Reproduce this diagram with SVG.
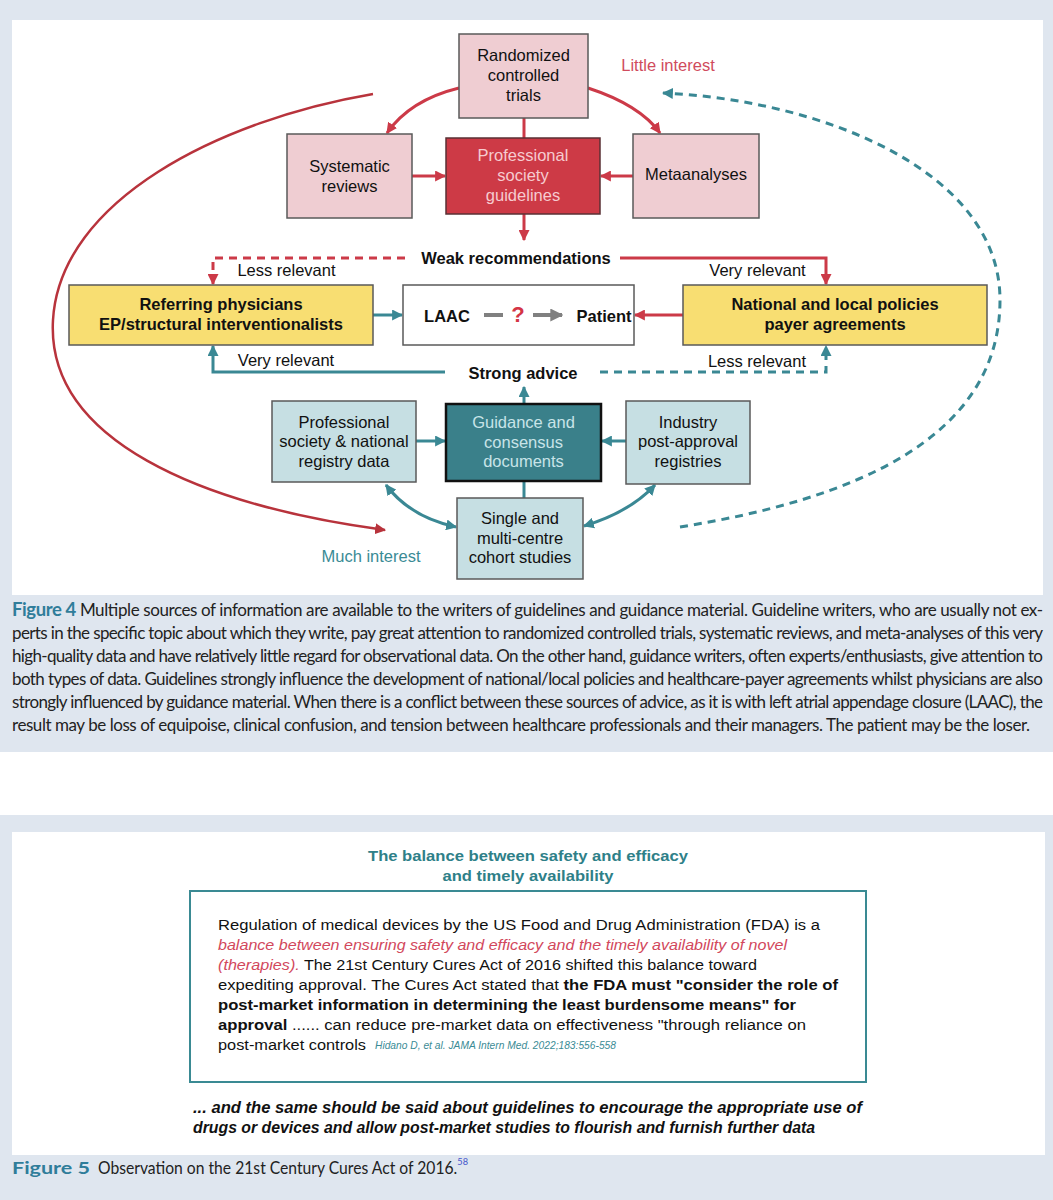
<svg xmlns="http://www.w3.org/2000/svg" width="1053" height="1200" viewBox="0 0 1053 1200">
<style>
text{font-family:"Liberation Sans",Arial,sans-serif;}
.lbl{font-size:16.5px;fill:#111;text-anchor:middle;}
.b{font-weight:bold;}
.pink{fill:#efcdd2;stroke:#5a5a5a;stroke-width:1.5;}
.red{fill:#cd3a46;stroke:#5a3035;stroke-width:1.5;}
.yel{fill:#f8de72;stroke:#5a5a5a;stroke-width:1.5;}
.wht{fill:#fff;stroke:#5a5a5a;stroke-width:1.5;}
.lt{fill:#c6dfe3;stroke:#5a5a5a;stroke-width:1.5;}
.dk{fill:#3a808a;stroke:#111;stroke-width:2.5;}
.rl{fill:none;stroke:#cc3a48;stroke-width:3;}
.tl{fill:none;stroke:#3a8894;stroke-width:3;}
.dash{stroke-dasharray:8 6;}
.cap{font-family:Lato,"Open Sans",sans-serif;font-size:17px;fill:#222;}
.capb{font-weight:bold;fill:#2f7d9a;font-size:18.5px;}
.body{font-size:15.5px;fill:#111;}
</style>
<defs>
<marker id="mr" viewBox="0 0 10 10" refX="9" refY="5" markerWidth="11" markerHeight="11" markerUnits="userSpaceOnUse" orient="auto-start-reverse"><path d="M0,0 L10,5 L0,10 z" fill="#cc3a48"/></marker>
<marker id="md" viewBox="0 0 10 10" refX="9" refY="5" markerWidth="11" markerHeight="11" markerUnits="userSpaceOnUse" orient="auto-start-reverse"><path d="M0,0 L10,5 L0,10 z" fill="#b8333c"/></marker>
<marker id="mt" viewBox="0 0 10 10" refX="9" refY="5" markerWidth="11" markerHeight="11" markerUnits="userSpaceOnUse" orient="auto-start-reverse"><path d="M0,0 L10,5 L0,10 z" fill="#3a8894"/></marker>
<marker id="mg" viewBox="0 0 10 10" refX="9" refY="5" markerWidth="13" markerHeight="13" markerUnits="userSpaceOnUse" orient="auto"><path d="M0,0 L10,5 L0,10 z" fill="#808080"/></marker>
</defs>

<rect width="1053" height="1200" fill="#fff"/>
<rect x="0" y="0" width="1053" height="752" fill="#dfe6ef"/>
<rect x="12" y="20" width="1031" height="575" fill="#fff"/>
<rect x="0" y="815" width="1053" height="385" fill="#dfe6ef"/>
<rect x="12" y="832" width="1033" height="323" fill="#fff"/>

<g id="connectors">
<line class="rl" x1="524" y1="118" x2="524" y2="138"/>
<line class="rl" x1="412" y1="176" x2="445" y2="176" marker-end="url(#mr)"/>
<line class="rl" x1="633" y1="176" x2="601" y2="176" marker-end="url(#mr)"/>
<line class="rl" x1="524" y1="214" x2="524" y2="240" marker-end="url(#mr)"/>
<path class="rl" d="M459,88 Q410,100 387,133" marker-end="url(#mr)"/>
<path class="rl" d="M588,88 Q640,105 660,133" marker-end="url(#mr)"/>
<path class="rl dash" d="M405,258 H213 V284" marker-end="url(#mr)"/>
<path class="rl" d="M620,258 H826 V284" marker-end="url(#mr)"/>
<line class="rl" x1="683" y1="315" x2="635" y2="315" marker-end="url(#mr)"/>
<path fill="none" stroke="#b8333c" stroke-width="2.5" d="M373,94 C220,120 60,200 53,320 C46,440 200,505 385,530" marker-end="url(#md)"/>
<line class="tl" x1="373" y1="315" x2="402" y2="315" marker-end="url(#mt)"/>
<path class="tl" d="M445,372 H213 V346" marker-end="url(#mt)"/>
<path class="tl dash" d="M600,372 H826 V346" marker-end="url(#mt)"/>
<line class="tl" x1="524" y1="404" x2="524" y2="387" stroke-width="2" marker-end="url(#mt)"/>
<line class="tl" x1="416" y1="441" x2="445" y2="441" marker-end="url(#mt)"/>
<line class="tl" x1="626" y1="441" x2="602" y2="441" marker-end="url(#mt)"/>
<line class="tl" x1="524" y1="481" x2="524" y2="498"/>
<path class="tl" d="M386,485 Q410,517 456,527" marker-start="url(#mt)" marker-end="url(#mt)"/>
<path class="tl" d="M584,526 Q630,512 655,485" marker-start="url(#mt)" marker-end="url(#mt)"/>
<path class="tl dash" d="M680,527 C850,500 1000,440 1000,300 C1000,170 820,100 663,93" marker-end="url(#mt)"/>
</g>

<g id="rct"><rect class="pink" x="459" y="34" width="129" height="84"/>
<text class="lbl" x="523.5" y="61">Randomized</text><text class="lbl" x="523.5" y="81">controlled</text><text class="lbl" x="523.5" y="101">trials</text></g>
<g id="systematic"><rect class="pink" x="287" y="134" width="125" height="84"/>
<text class="lbl" x="349.5" y="172">Systematic</text><text class="lbl" x="349.5" y="192">reviews</text></g>
<g id="guidelines"><rect class="red" x="446" y="138" width="154" height="76"/>
<text class="lbl" x="523" y="161" style="fill:#f6cbd0">Professional</text><text class="lbl" x="523" y="181" style="fill:#f6cbd0">society</text><text class="lbl" x="523" y="201" style="fill:#f6cbd0">guidelines</text></g>
<g id="meta"><rect class="pink" x="633" y="134" width="126" height="84"/>
<text class="lbl" x="696" y="180">Metaanalyses</text></g>
<g id="little"><text class="lbl" x="668" y="71" style="fill:#d04b5d">Little interest</text></g>
<g id="weak"><text class="lbl b" x="516" y="264">Weak recommendations</text></g>
<g id="lbl-less1"><text class="lbl" x="286.5" y="276">Less relevant</text></g>
<g id="lbl-very1"><text class="lbl" x="757.5" y="276">Very relevant</text></g>
<g id="referring"><rect class="yel" x="69" y="285" width="304" height="60"/>
<text class="lbl b" x="221" y="310">Referring physicians</text><text class="lbl b" x="221" y="330">EP/structural interventionalists</text></g>
<g id="laac"><rect class="wht" x="403" y="285" width="231" height="60"/>
<text class="lbl b" x="447" y="322">LAAC</text>
<line x1="484" y1="315" x2="503" y2="315" stroke="#808080" stroke-width="4"/>
<text class="b" x="518" y="322" text-anchor="middle" font-size="22" fill="#d43545">?</text>
<line x1="533" y1="315" x2="562" y2="315" stroke="#808080" stroke-width="4" marker-end="url(#mg)"/>
<text class="lbl b" x="604" y="322">Patient</text></g>
<g id="national"><rect class="yel" x="683" y="285" width="304" height="60"/>
<text class="lbl b" x="835" y="310">National and local policies</text><text class="lbl b" x="835" y="330">payer agreements</text></g>
<g id="lbl-very2"><text class="lbl" x="286" y="366">Very relevant</text></g>
<g id="lbl-less2"><text class="lbl" x="757" y="367">Less relevant</text></g>
<g id="strong"><text class="lbl b" x="523" y="379">Strong advice</text></g>
<g id="profsoc"><rect class="lt" x="272" y="401" width="144" height="81"/>
<text class="lbl" x="344" y="428">Professional</text><text class="lbl" x="344" y="447">society &amp; national</text><text class="lbl" x="344" y="467">registry data</text></g>
<g id="guidance"><rect class="dk" x="446" y="404" width="155" height="77"/>
<text class="lbl" x="523.5" y="428" style="fill:#c8e4e8">Guidance and</text><text class="lbl" x="523.5" y="448" style="fill:#c8e4e8">consensus</text><text class="lbl" x="523.5" y="467" style="fill:#c8e4e8">documents</text></g>
<g id="industry"><rect class="lt" x="626" y="401" width="124" height="83"/>
<text class="lbl" x="688" y="428">Industry</text><text class="lbl" x="688" y="447">post-approval</text><text class="lbl" x="688" y="467">registries</text></g>
<g id="single"><rect class="lt" x="457" y="498" width="126" height="81"/>
<text class="lbl" x="520" y="524">Single and</text><text class="lbl" x="520" y="544">multi-centre</text><text class="lbl" x="520" y="563">cohort studies</text></g>
<g id="much"><text class="lbl" x="371" y="562" style="fill:#3a8b95">Much interest</text></g>

<g id="caption4">
<text class="cap" x="12" y="616" textLength="1031" lengthAdjust="spacing"><tspan class="capb">Figure 4</tspan>  Multiple sources of information are available to the writers of guidelines and guidance material. Guideline writers, who are usually not ex-</text>
<text class="cap" x="12" y="639" textLength="1031" lengthAdjust="spacing">perts in the specific topic about which they write, pay great attention to randomized controlled trials, systematic reviews, and meta-analyses of this very</text>
<text class="cap" x="12" y="662" textLength="1031" lengthAdjust="spacing">high-quality data and have relatively little regard for observational data. On the other hand, guidance writers, often experts/enthusiasts, give attention to</text>
<text class="cap" x="12" y="685" textLength="1031" lengthAdjust="spacing">both types of data. Guidelines strongly influence the development of national/local policies and healthcare-payer agreements whilst physicians are also</text>
<text class="cap" x="12" y="708" textLength="1031" lengthAdjust="spacing">strongly influenced by guidance material. When there is a conflict between these sources of advice, as it is with left atrial appendage closure (LAAC), the</text>
<text class="cap" x="12" y="731" textLength="1018" lengthAdjust="spacing">result may be loss of equipoise, clinical confusion, and tension between healthcare professionals and their managers. The patient may be the loser.</text>
</g>

<g id="title5">
<text class="b" x="528" y="861" text-anchor="middle" font-size="15.5" fill="#2e8088" textLength="320" lengthAdjust="spacingAndGlyphs">The balance between safety and efficacy</text>
<text class="b" x="528" y="881" text-anchor="middle" font-size="15.5" fill="#2e8088" textLength="171" lengthAdjust="spacingAndGlyphs">and timely availability</text>
</g>
<g id="box5">
<rect x="190" y="891" width="676" height="191" fill="#fff" stroke="#3a8a93" stroke-width="2"/>
<text class="body" x="218" y="930" textLength="602" lengthAdjust="spacingAndGlyphs">Regulation of medical devices by the US Food and Drug Administration (FDA) is a</text>
<text class="body" x="218" y="950" font-style="italic" style="fill:#d2485c" textLength="569" lengthAdjust="spacingAndGlyphs">balance between ensuring safety and efficacy and the timely availability of novel</text>
<text class="body" x="218" y="970" textLength="539" lengthAdjust="spacingAndGlyphs"><tspan font-style="italic" style="fill:#d2485c">(therapies).</tspan> The 21st Century Cures Act of 2016 shifted this balance toward</text>
<text class="body" x="218" y="990" textLength="620" lengthAdjust="spacingAndGlyphs">expediting approval. The Cures Act stated that <tspan font-weight="bold">the FDA must "consider the role of</tspan></text>
<text class="body b" x="218" y="1010" textLength="578" lengthAdjust="spacingAndGlyphs">post-market information in determining the least burdensome means" for</text>
<text class="body" x="218" y="1030" textLength="588" lengthAdjust="spacingAndGlyphs"><tspan font-weight="bold">approval</tspan> ...... can reduce pre-market data on effectiveness "through reliance on</text>
<text class="body" x="218" y="1050" textLength="148" lengthAdjust="spacingAndGlyphs">post-market controls</text>
<text x="375" y="1049" font-size="11" font-style="italic" fill="#3a8b95" textLength="241" lengthAdjust="spacingAndGlyphs">Hidano D, et al. JAMA Intern Med. 2022;183:556-558</text>
</g>
<g id="note5">
<text class="b" x="193" y="1113" font-size="16" font-style="italic" fill="#111" textLength="669" lengthAdjust="spacingAndGlyphs">... and the same should be said about guidelines to encourage the appropriate use of</text>
<text class="b" x="193" y="1133" font-size="16" font-style="italic" fill="#111" textLength="622" lengthAdjust="spacingAndGlyphs">drugs or devices and allow post-market studies to flourish and furnish further data</text>
</g>
<g id="caption5">
<text class="cap" x="12" y="1174" font-weight="bold" font-size="18" style="fill:#2f7d9a" textLength="78" lengthAdjust="spacingAndGlyphs">Figure 5</text>
<text class="cap" x="98" y="1174" textLength="370" lengthAdjust="spacingAndGlyphs">Observation on the 21st Century Cures Act of 2016.<tspan font-size="10" dy="-9" style="fill:#4455cc">58</tspan></text>
</g>
</svg>
